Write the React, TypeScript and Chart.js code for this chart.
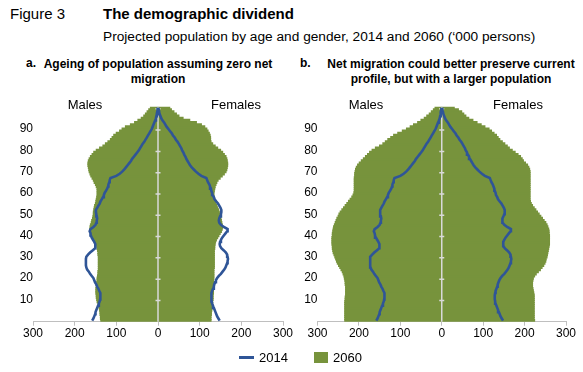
import React, { useEffect, useRef } from 'react';
import { Chart, registerables } from 'chart.js';

Chart.register(...registerables);

const FONT = "'Liberation Sans', Arial, Helvetica, sans-serif";
Chart.defaults.font.family = FONT;

// Age categories 0..100 (single years)
const AGE_LABELS = [
  '0','1','2','3','4','5','6','7','8','9',
  '10','11','12','13','14','15','16','17','18','19',
  '20','21','22','23','24','25','26','27','28','29',
  '30','31','32','33','34','35','36','37','38','39',
  '40','41','42','43','44','45','46','47','48','49',
  '50','51','52','53','54','55','56','57','58','59',
  '60','61','62','63','64','65','66','67','68','69',
  '70','71','72','73','74','75','76','77','78','79',
  '80','81','82','83','84','85','86','87','88','89',
  '90','91','92','93','94','95','96','97','98','99',
  '100',
];
const Y_TICK_LABELS = ['10', '20', '30', '40', '50', '60', '70', '80', '90'];
const X_MIN = -300;
const X_MAX = 300;
const X_STEP = 100;

// 2014 population ('000), age 0..100
const MALES_2014 = [
  158,155,153,151,150,148,146,144,142,140,
  139,138,138,139,141,143,146,148,151,153,
  155,159,163,166,170,172,173,173,173,173,
  172,168,163,157,151,150,151,153,156,159,
  161,162,164,162,155,150,148,147,146,147,
  148,149,149,146,143,140,138,135,132,130,
  128,125,122,120,119,117,116,114,100,92,
  86,81,77,73,69,65,62,58,54,50,
  46,43,40,37,33,30,27,24,21,18,
  15,13,11,9,7,5,4,3,2,1,
  1,
];
const FEMALES_2014 = [
  148,145,142,140,138,136,134,132,130,129,
  128,128,128,129,130,132,134,135,137,139,
  142,146,151,155,159,162,164,166,167,168,
  167,166,163,158,152,149,148,149,151,154,
  158,162,166,167,158,151,147,146,147,149,
  151,152,152,150,147,144,140,136,134,131,
  130,128,127,125,123,120,118,116,104,97,
  91,86,81,77,74,71,68,66,63,61,
  58,56,53,50,47,43,40,36,33,29,
  25,21,18,15,11,8,6,4,3,2,
  1,
];

// 2060, panel a: zero net migration
const MALES_2060_A = [
  137,138,138,139,139,140,141,142,144,146,
  147,148,148,149,149,149,148,148,147,146,
  146,145,144,144,143,143,143,143,143,143,
  143,144,144,145,146,147,148,150,152,155,
  158,160,162,163,163,162,160,159,157,156,
  155,155,154,153,152,150,149,148,147,146,
  146,146,146,148,150,153,155,158,161,163,
  165,166,167,168,168,167,165,162,158,154,
  148,140,132,126,120,114,110,106,100,92,
  86,78,66,56,48,40,34,30,26,22,
  18,
];
const FEMALES_2060_A = [
  127,127,127,128,128,129,130,130,131,131,
  132,132,132,133,133,133,133,133,133,133,
  134,134,134,134,134,135,135,135,135,135,
  135,135,135,135,136,136,137,138,140,143,
  146,149,152,154,155,154,153,152,151,150,
  149,147,145,143,141,139,137,136,135,134,
  134,135,136,137,139,141,144,149,154,159,
  163,165,166,167,167,166,165,163,159,155,
  150,143,137,131,127,126,126,125,123,120,
  117,112,104,92,76,60,50,44,38,32,
  28,
];

// 2060, panel b: with net migration
const MALES_2060_B = [
  234,234,234,234,234,234,234,234,234,234,
  233,233,232,232,232,232,232,233,233,234,
  235,236,238,240,243,246,249,252,254,256,
  258,260,262,263,264,264,265,265,265,265,
  264,264,263,262,261,259,257,255,253,250,
  248,245,241,237,233,229,225,221,217,214,
  212,211,211,211,211,211,211,211,210,210,
  209,208,206,203,199,194,189,184,179,174,
  168,160,150,142,136,130,123,116,106,95,
  85,76,68,58,50,42,36,30,25,20,
  16,
];
const FEMALES_2060_B = [
  224,223,223,223,223,223,223,223,223,223,
  223,223,223,222,221,220,219,219,219,220,
  221,224,228,233,238,242,246,249,251,252,
  254,255,256,257,258,259,260,260,260,260,
  260,259,259,258,256,254,251,247,243,239,
  235,231,227,223,219,216,214,213,213,213,
  213,213,213,213,213,213,213,213,213,213,
  213,212,210,207,202,197,194,190,184,177,
  170,163,158,152,146,140,136,132,126,120,
  114,104,95,85,75,65,58,53,48,40,
  30,
];

const GREEN = '#77933c';
const BLUE = '#2f5597';
const AXIS_GREY = '#bfbfbf';
const ZERO_GREY = '#d9d9d9';

const CANVAS_TOP = 90;
const CANVAS_H = 262;
const PLOT_TOP = 106.7;
const PLOT_BOTTOM = 321.7;

const zeroLinePlugin = {
  id: 'zeroLine',
  beforeDatasetsDraw(chart: any) {
    chart.$zeroDone = false;
  },
  beforeDatasetDraw(chart: any, args: any) {
    if (chart.$zeroDone || args.meta.type !== 'line') return;
    chart.$zeroDone = true;
    const { ctx, chartArea } = chart;
    const x0 = chart.scales.x.getPixelForValue(0);
    ctx.save();
    ctx.strokeStyle = ZERO_GREY;
    ctx.lineWidth = 1.5;
    ctx.beginPath();
    ctx.moveTo(x0, chartArea.top);
    ctx.lineTo(x0, chartArea.bottom);
    const h = (chartArea.bottom - chartArea.top) / AGE_LABELS.length;
    for (let k = 10; k < AGE_LABELS.length; k += 10) {
      const y = chartArea.bottom - k * h;
      ctx.moveTo(x0 - 2.5, y);
      ctx.lineTo(x0 + 2.5, y);
    }
    ctx.stroke();
    ctx.restore();
  },
};

type PanelProps = {
  males: number[];
  females: number[];
  left: number;
  width: number;
  yAxisW: number;
  padRight: number;
};

function Panel({ males, females, left, width, yAxisW, padRight }: PanelProps) {
  const ref = useRef<HTMLCanvasElement>(null);
  useEffect(() => {
    const tickFont = { family: FONT, size: 12 };
    const barCommon = {
      type: 'bar',
      indexAxis: 'y',
      backgroundColor: GREEN,
      borderWidth: 0,
      inflateAmount: 0.6,
      grouped: false,
      barPercentage: 1,
      categoryPercentage: 1,
      order: 1,
    };
    const lineCommon = {
      type: 'line',
      indexAxis: 'y',
      borderColor: BLUE,
      backgroundColor: BLUE,
      borderWidth: 2.6,
      pointRadius: 0,
      tension: 0,
      fill: false,
      order: 0,
    };
    const chart = new Chart(ref.current as HTMLCanvasElement, {
      type: 'bar',
      data: {
        labels: AGE_LABELS,
        datasets: [
          { ...lineCommon, label: '2014 males', data: MALES_2014.map((v) => -v) },
          { ...lineCommon, label: '2014 females', data: FEMALES_2014 },
          { ...barCommon, label: '2060 males', data: males.map((v) => -v) },
          { ...barCommon, label: '2060 females', data: females },
        ],
      } as any,
      options: {
        indexAxis: 'y',
        responsive: false,
        animation: false,
        events: [],
        layout: {
          padding: { left: 0, right: padRight, top: PLOT_TOP - CANVAS_TOP, bottom: 0 },
        },
        plugins: { legend: { display: false }, tooltip: { enabled: false } },
        scales: {
          x: {
            type: 'linear',
            min: X_MIN,
            max: X_MAX,
            ticks: {
              stepSize: X_STEP,
              callback: (v: any) => String(Math.abs(Number(v))),
              font: tickFont,
              color: '#000',
              padding: 1,
              maxRotation: 0,
            },
            grid: {
              drawOnChartArea: false,
              drawTicks: true,
              tickLength: 4,
              color: AXIS_GREY,
            },
            border: { display: true, color: AXIS_GREY, width: 1 },
            afterFit: (s: any) => {
              s.height = CANVAS_H - (PLOT_BOTTOM - CANVAS_TOP);
            },
          },
          y: {
            type: 'category',
            reverse: true,
            offset: true,
            ticks: {
              autoSkip: false,
              padding: 0,
              font: tickFont,
              color: '#000',
              callback: function (this: any, v: any) {
                const lab = this.getLabelForValue(v);
                return Y_TICK_LABELS.includes(lab) ? lab : null;
              },
            },
            grid: { display: false, drawTicks: false },
            border: { display: false },
            afterFit: (s: any) => {
              s.width = yAxisW;
            },
          },
        },
      } as any,
      plugins: [zeroLinePlugin],
    });
    return () => chart.destroy();
  }, []);
  return (
    <canvas
      ref={ref}
      width={width}
      height={CANVAS_H}
      style={{ position: 'absolute', left, top: CANVAS_TOP, width, height: CANVAS_H }}
    />
  );
}

const abs = (left: number, top: number, size: number, bold = false, extra: any = {}) => ({
  position: 'absolute' as const,
  left,
  top,
  fontSize: size,
  lineHeight: `${size}px`,
  fontWeight: bold ? 700 : 400,
  whiteSpace: 'nowrap' as const,
  ...extra,
});

export default function App() {
  return (
    <div
      style={{
        position: 'absolute',
        left: 0,
        top: 0,
        width: 583,
        height: 372,
        background: '#fff',
        fontFamily: FONT,
        color: '#000',
        overflow: 'hidden',
      }}
    >
      <div style={abs(10, 6, 15)}>Figure 3</div>
      <div style={abs(103, 6, 15, true)}>The demographic dividend</div>
      <div style={abs(103, 30, 13.7)}>
        Projected population by age and gender, 2014 and 2060 (‘000 persons)
      </div>

      <div style={abs(26, 57, 12, true)}>a.</div>
      <div style={abs(38, 57, 12, true, { width: 240, textAlign: 'center', lineHeight: '15px' })}>
        Ageing of population assuming zero net
        <br />
        migration
      </div>
      <div style={abs(300, 57, 12, true)}>b.</div>
      <div style={abs(320, 57, 12, true, { width: 262, textAlign: 'center', lineHeight: '15px' })}>
        Net migration could better preserve current
        <br />
        profile, but with a larger population
      </div>

      <Panel males={MALES_2060_A} females={FEMALES_2060_A} left={0} width={295} yAxisW={33} padRight={12} />
      <Panel males={MALES_2060_B} females={FEMALES_2060_B} left={284} width={295} yAxisW={33.5} padRight={13} />

      <div style={abs(60, 97.5, 13, false, { width: 50, textAlign: 'center' })}>Males</div>
      <div style={abs(206, 97.5, 13, false, { width: 60, textAlign: 'center' })}>Females</div>
      <div style={abs(341, 97.5, 13, false, { width: 50, textAlign: 'center' })}>Males</div>
      <div style={abs(488, 97.5, 13, false, { width: 60, textAlign: 'center' })}>Females</div>

      <div style={{ position: 'absolute', left: 239, top: 356, width: 15, height: 3, background: BLUE }} />
      <div style={abs(259, 351, 13)}>2014</div>
      <div style={{ position: 'absolute', left: 314, top: 352, width: 14, height: 11, background: GREEN }} />
      <div style={abs(333, 351, 13)}>2060</div>
    </div>
  );
}
